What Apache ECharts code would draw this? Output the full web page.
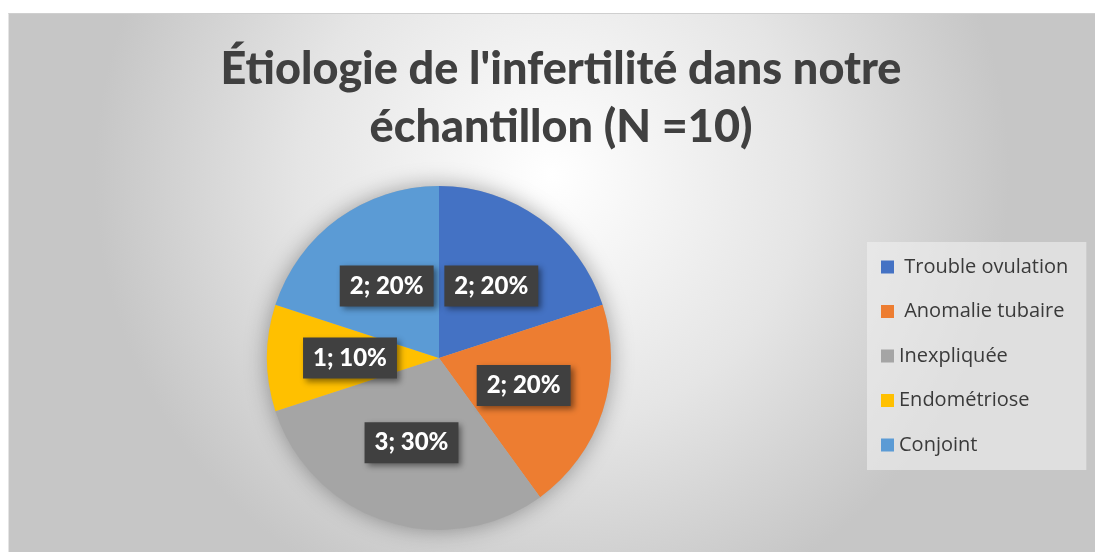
<!DOCTYPE html>
<html>
<head>
<meta charset="utf-8">
<script src="https://cdn.jsdelivr.net/npm/echarts@6/dist/echarts.min.js"></script>
<style>
html, body { margin: 0; padding: 0; background: #fff; }
#pieChart {
    position: absolute;
    left: 8px;
    top: 13px;
    width: 1087px;
    height: 539px;
    border-top: 1px solid #cfcfcf;
    border-left: 1px solid #e4e4e4;
    box-sizing: border-box;
}
</style>
</head>
<body>
<div id="pieChart"></div>
<script>
// etiologies (leading spaces kept as in the source legend)
var categories = [" Trouble ovulation", " Anomalie tubaire", "Inexpliquée", "Endométriose", "Conjoint"];
var counts = [2, 2, 3, 1, 2];
var colors = ["#4472C4", "#ED7D31", "#A5A5A5", "#FFC000", "#5B9BD5"];
var titleLines = ["Étiologie de l'infertilité dans notre", "échantillon (N =10)"];

var total = counts.reduce(function (a, b) { return a + b; }, 0);
var pieData = categories.map(function (c, i) {
    return { name: c, value: counts[i], itemStyle: { color: colors[i] } };
});

var dom = document.getElementById("pieChart");
var myChart = echarts.init(dom);
var option = {
    animation: false,
    backgroundColor: new echarts.graphic.RadialGradient(0.5, 0.3, 0.85, [
        { offset: 0, color: "#ffffff" },
        { offset: 0.55, color: "#e5e5e5" },
        { offset: 1, color: "#c6c6c6" }
    ]),
    title: {
        text: titleLines.join("\n"),
        left: 547,
        top: 21,
        textAlign: "center",
        textStyle: {
            fontFamily: "Lato",
            fontWeight: 900,
            fontSize: 45,
            lineHeight: 58,
            color: "#404040"
        }
    },
    legend: {
        orient: "vertical",
        left: 858,
        top: 228,
        data: categories,
        icon: "rect",
        itemWidth: 13,
        itemHeight: 13,
        itemGap: 24.5,
        padding: [15, 18, 15, 14],
        backgroundColor: "rgba(240,240,240,0.6)",
        textStyle: {
            fontFamily: "Open Sans",
            fontSize: 20,
            color: "#3a3a3a"
        }
    },
    series: [
        {
            // soft shadow disc behind the pie
            type: "pie",
            silent: true,
            center: [430, 344],
            radius: 172,
            data: [{ value: 1, name: "" }],
            label: { show: false },
            itemStyle: { color: "#b0b0b0", shadowBlur: 22, shadowColor: "rgba(0,0,0,0.35)" },
            tooltip: { show: false }
        },
        {
            type: "pie",
            center: [430, 344],
            radius: 172,
            startAngle: 90,
            clockwise: true,
            data: pieData,
            label: {
                show: true,
                position: "inside",
                formatter: function (p) {
                    return p.value + "; " + Math.round(p.value / total * 100) + "%";
                },
                fontFamily: "Lato",
                fontWeight: 900,
                fontSize: 24,
                color: "#ffffff",
                backgroundColor: "#404040",
                padding: [9, 10, 8, 10],
                shadowColor: "rgba(0,0,0,0.45)",
                shadowBlur: 6,
                shadowOffsetX: 3,
                shadowOffsetY: 3
            },
            labelLine: { show: false }
        }
    ]
};
myChart.setOption(option, true);
</script>
</body>
</html>
